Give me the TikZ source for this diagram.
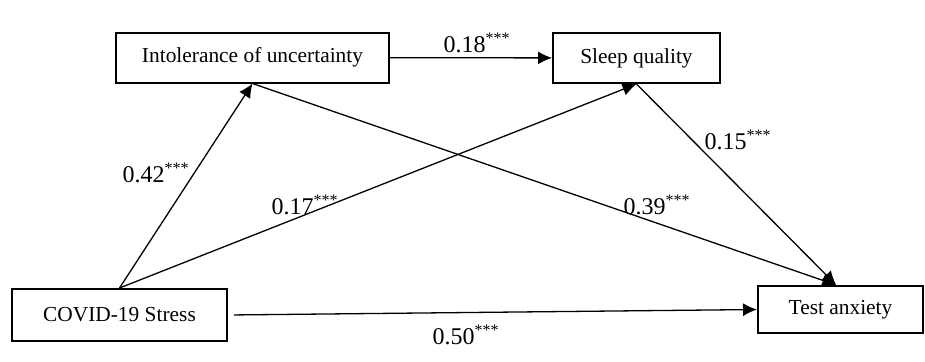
\documentclass[tikz,border=0pt]{standalone}
\usepackage{fontspec}
\setmainfont{Liberation Serif}
\usepackage{tikz}
\usetikzlibrary{arrows.meta}

\begin{document}
\begin{tikzpicture}[x=0.5pt,y=-0.5pt,line width=0.65pt,
    varbox/.style={draw,line width=1pt,inner sep=0pt,minimum height=25pt,
      font=\fontsize{10.7}{13}\selectfont},
    path/.style={-{Latex[length=7pt,width=6.5pt]}},
    coef/.style={font=\fontsize{12}{14}\selectfont,inner sep=0pt}]
  \useasboundingbox (0,0) rectangle (925,361);
  % variables
  \node[varbox,minimum width=136.5pt] (iu) at (252.5,57.5) {Intolerance of uncertainty};
  \node[varbox,minimum width=83.5pt] (sq) at (636.5,58) {Sleep quality};
  \node[varbox,minimum width=107.5pt,minimum height=26pt] (cs) at (119.5,315) {COVID-19 Stress};
  \node[varbox,minimum width=82.5pt,minimum height=23.5pt] (ta) at (840.5,309.5) {Test anxiety};
  % paths
  \draw[path] (iu) -- (sq);
  \draw[path] (cs.north) -- (iu.south);
  \draw[path] (cs.north) -- (sq.south);
  \draw[path] (iu.south) -- (ta.100);
  \draw[path] (sq.south) -- (ta.100);
  \draw[path,shorten <=3pt] (cs.east) -- (ta.west);
  % coefficients
  \node[coef] (b1) at (477,43) {0.18\textsuperscript{***}};
  \node[coef] (b2) at (156,173) {0.42\textsuperscript{***}};
  \node[coef] (b3) at (305,205) {0.17\textsuperscript{***}};
  \node[coef] (b4) at (738,140) {0.15\textsuperscript{***}};
  \node[coef] (b5) at (657,205) {0.39\textsuperscript{***}};
  \node[coef] (b6) at (466,335) {0.50\textsuperscript{***}};
\end{tikzpicture}
\end{document}
